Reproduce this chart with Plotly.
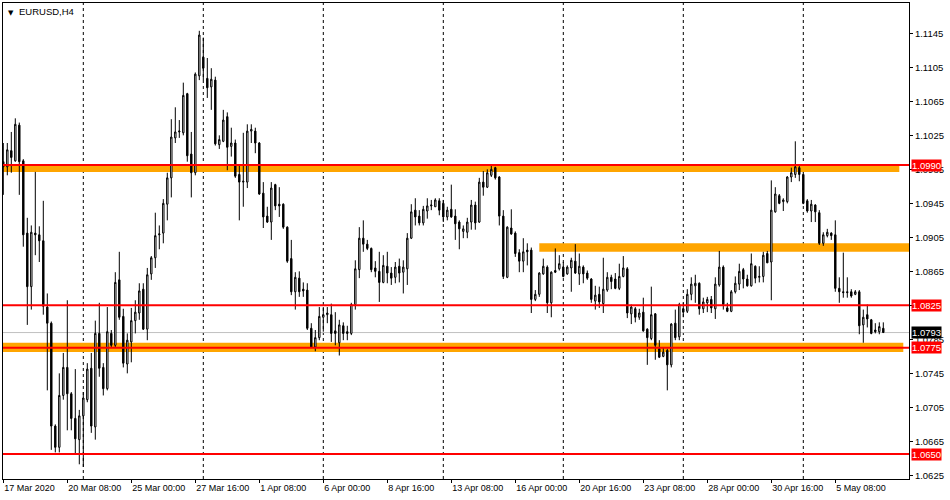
import plotly.graph_objects as go

# EURUSD H4 bars, 17 Mar 2020 16:00 .. 7 May 2020 08:00
bar_open = [
    1.0994, 1.0988, 1.1007, 1.0995, 1.1037, 1.0995, 1.0910, 1.0847, 1.0910, 1.0908,
    1.0901, 1.0823, 1.0804, 1.0683, 1.0658, 1.0719, 1.0752, 1.0721, 1.0692, 1.0667,
    1.0695, 1.0714, 1.0751, 1.0682, 1.0792, 1.0752, 1.0727, 1.0792, 1.0778, 1.0855,
    1.0812, 1.0756, 1.0782, 1.0807, 1.0816, 1.0844, 1.0797, 1.0862, 1.0881, 1.0908,
    1.0910, 1.0944, 1.0975, 1.1022, 1.1029, 1.1028, 1.1074, 1.1003, 1.0981, 1.1095,
    1.1117, 1.1092, 1.1082, 1.1090, 1.1014, 1.1018, 1.1047, 1.1012, 1.1016, 1.0979,
    1.0970, 1.0970, 1.1030, 1.1030, 1.1016, 1.0957, 1.0930, 1.0923, 1.0967, 1.0944,
    1.0944, 1.0917, 1.0880, 1.0841, 1.0857, 1.0844, 1.0843, 1.0798, 1.0776, 1.0787,
    1.0811, 1.0814, 1.0814, 1.0795, 1.0781, 1.0801, 1.0794, 1.0792, 1.0826, 1.0867,
    1.0904, 1.0897, 1.0892, 1.0869, 1.0865, 1.0852, 1.0871, 1.0863, 1.0858, 1.0871,
    1.0864, 1.0868, 1.0904, 1.0937, 1.0930, 1.0922, 1.0936, 1.0942, 1.0941, 1.0948,
    1.0945, 1.0929, 1.0938, 1.0930, 1.0923, 1.0912, 1.0911, 1.0923, 1.0943, 1.0923,
    1.0970, 1.0964, 1.0978, 1.0987, 1.0976, 1.0930, 1.0858, 1.0916, 1.0910, 1.0887,
    1.0877, 1.0890, 1.0890, 1.0832, 1.0838, 1.0862, 1.0870, 1.0828, 1.0866, 1.0868,
    1.0870, 1.0862, 1.0869, 1.0877, 1.0862, 1.0870, 1.0863, 1.0856, 1.0830, 1.0838,
    1.0827, 1.0843, 1.0858, 1.0856, 1.0845, 1.0859, 1.0868, 1.0815, 1.0821, 1.0811,
    1.0817, 1.0797, 1.0786, 1.0815, 1.0774, 1.0765, 1.0772, 1.0755, 1.0804, 1.0788,
    1.0821, 1.0818, 1.0838, 1.0848, 1.0851, 1.0821, 1.0828, 1.0832, 1.0821, 1.0849,
    1.0870, 1.0822, 1.0818, 1.0841, 1.0850, 1.0867, 1.0856, 1.0848, 1.0871, 1.0858,
    1.0859, 1.0886, 1.0876, 1.0935, 1.0954, 1.0947, 1.0947, 1.0976, 1.0979, 1.0987,
    1.0979, 1.0948, 1.0936, 1.0943, 1.0934, 1.0898, 1.0907, 1.0910, 1.0908, 1.0845,
    1.0841, 1.0841, 1.0841, 1.0838, 1.0841, 1.0802, 1.0814, 1.0808, 1.0796, 1.0794,
    1.0798,
]
bar_high = [
    1.1016, 1.1016, 1.1029, 1.1045, 1.1040, 1.0997, 1.0928, 1.0919, 1.0982, 1.0918,
    1.0948, 1.0839, 1.0806, 1.0685, 1.0745, 1.0769, 1.0831, 1.0723, 1.0750, 1.0702,
    1.0723, 1.0757, 1.0769, 1.0807, 1.0828, 1.0757, 1.0823, 1.0796, 1.0864, 1.0888,
    1.0821, 1.0792, 1.0822, 1.0831, 1.0851, 1.0851, 1.0869, 1.0883, 1.0934, 1.0919,
    1.0950, 1.0981, 1.1044, 1.1058, 1.1043, 1.1087, 1.1075, 1.1029, 1.1099, 1.1148,
    1.1140, 1.1116, 1.1104, 1.1094, 1.1025, 1.1055, 1.1052, 1.1034, 1.1020, 1.0990,
    1.1028, 1.1038, 1.1038, 1.1034, 1.1017, 1.0970, 1.0941, 1.0970, 1.0968, 1.0964,
    1.0945, 1.0918, 1.0902, 1.0864, 1.0865, 1.0852, 1.0851, 1.0804, 1.0796, 1.0823,
    1.0823, 1.0823, 1.0827, 1.0817, 1.0808, 1.0805, 1.0801, 1.0828, 1.0878, 1.0917,
    1.0925, 1.0902, 1.0893, 1.0877, 1.0888, 1.0884, 1.0888, 1.0870, 1.0876, 1.0880,
    1.0878, 1.0910, 1.0944, 1.0951, 1.0937, 1.0942, 1.0951, 1.0949, 1.0951, 1.0951,
    1.0949, 1.0941, 1.0967, 1.0938, 1.0925, 1.0919, 1.0928, 1.0949, 1.0947, 1.0975,
    1.0983, 1.0985, 1.0989, 1.0988, 1.0977, 1.0937, 1.0918, 1.0938, 1.0912, 1.0891,
    1.0904, 1.0898, 1.0893, 1.0843, 1.0864, 1.0880, 1.0872, 1.0865, 1.0892, 1.0884,
    1.0876, 1.0872, 1.0881, 1.0897, 1.0886, 1.0872, 1.0866, 1.0857, 1.0848, 1.0847,
    1.0881, 1.0864, 1.0861, 1.0863, 1.0874, 1.0883, 1.0870, 1.0826, 1.0823, 1.0821,
    1.0834, 1.0798, 1.0847, 1.0816, 1.0784, 1.0776, 1.0774, 1.0804, 1.0820, 1.0828,
    1.0828, 1.0844, 1.0858, 1.0861, 1.0852, 1.0834, 1.0835, 1.0836, 1.0858, 1.0889,
    1.0872, 1.0828, 1.0843, 1.0859, 1.0874, 1.0869, 1.0861, 1.0886, 1.0872, 1.0871,
    1.0888, 1.0889, 1.0972, 1.0964, 1.0956, 1.0951, 1.0977, 1.0987, 1.1018, 1.0989,
    1.0981, 1.0950, 1.0949, 1.0944, 1.0937, 1.0911, 1.0915, 1.0911, 1.0925, 1.0858,
    1.0887, 1.0858, 1.0844, 1.0843, 1.0843, 1.0820, 1.0826, 1.0809, 1.0804, 1.0805,
    1.0805,
]
bar_low = [
    1.0955, 1.0978, 1.0981, 1.0994, 1.0955, 1.0894, 1.0802, 1.0820, 1.0884, 1.0876,
    1.0814, 1.0725, 1.0655, 1.0652, 1.0652, 1.0714, 1.0678, 1.0678, 1.0651, 1.0638,
    1.0635, 1.0711, 1.0675, 1.0667, 1.0741, 1.0719, 1.0725, 1.0776, 1.0776, 1.0808,
    1.0752, 1.0745, 1.0758, 1.0792, 1.0808, 1.0796, 1.0784, 1.0855, 1.0869, 1.0891,
    1.0898, 1.0925, 1.0952, 1.1016, 1.1022, 1.1025, 1.0994, 1.0952, 1.0978, 1.1090,
    1.1090, 1.1069, 1.1055, 1.1013, 1.1009, 1.1017, 1.0984, 1.1000, 1.0975, 1.0925,
    1.0941, 1.0963, 1.1016, 1.1004, 1.0955, 1.0916, 1.0922, 1.0902, 1.0937, 1.0929,
    1.0915, 1.0875, 1.0837, 1.0820, 1.0835, 1.0835, 1.0796, 1.0775, 1.0771, 1.0784,
    1.0794, 1.0804, 1.0782, 1.0778, 1.0766, 1.0784, 1.0784, 1.0790, 1.0820, 1.0857,
    1.0888, 1.0890, 1.0864, 1.0858, 1.0829, 1.0851, 1.0851, 1.0849, 1.0851, 1.0852,
    1.0839, 1.0849, 1.0903, 1.0919, 1.0919, 1.0919, 1.0927, 1.0937, 1.0941, 1.0931,
    1.0923, 1.0925, 1.0928, 1.0902, 1.0891, 1.0904, 1.0904, 1.0914, 1.0914, 1.0922,
    1.0954, 1.0963, 1.0976, 1.0973, 1.0919, 1.0856, 1.0857, 1.0908, 1.0882, 1.0864,
    1.0864, 1.0872, 1.0816, 1.0830, 1.0835, 1.0861, 1.0816, 1.0811, 1.0863, 1.0866,
    1.0858, 1.0861, 1.0841, 1.0862, 1.0849, 1.0851, 1.0855, 1.0828, 1.0820, 1.0822,
    1.0816, 1.0841, 1.0844, 1.0844, 1.0843, 1.0858, 1.0810, 1.0803, 1.0805, 1.0808,
    1.0794, 1.0755, 1.0784, 1.0761, 1.0763, 1.0764, 1.0725, 1.0752, 1.0784, 1.0784,
    1.0811, 1.0816, 1.0831, 1.0828, 1.0814, 1.0816, 1.0817, 1.0816, 1.0809, 1.0847,
    1.0820, 1.0817, 1.0817, 1.0839, 1.0843, 1.0845, 1.0847, 1.0847, 1.0851, 1.0852,
    1.0852, 1.0875, 1.0831, 1.0934, 1.0944, 1.0936, 1.0945, 1.0970, 1.0975, 1.0971,
    1.0944, 1.0934, 1.0923, 1.0923, 1.0896, 1.0895, 1.0905, 1.0902, 1.0841, 1.0828,
    1.0834, 1.0834, 1.0834, 1.0837, 1.0791, 1.0781, 1.0799, 1.0791, 1.0792, 1.0791,
    1.0793,
]
bar_close = [
    1.0988, 1.1008, 1.0999, 1.1038, 1.0994, 1.0908, 1.0847, 1.0911, 1.0908, 1.0901,
    1.0824, 1.0804, 1.0683, 1.0658, 1.0719, 1.0752, 1.0721, 1.0692, 1.0668, 1.0695,
    1.0716, 1.0750, 1.0683, 1.0792, 1.0751, 1.0727, 1.0794, 1.0778, 1.0852, 1.0811,
    1.0757, 1.0784, 1.0807, 1.0817, 1.0842, 1.0797, 1.0861, 1.0881, 1.0907, 1.0909,
    1.0945, 1.0975, 1.1023, 1.1029, 1.1030, 1.1072, 1.1001, 1.0981, 1.1097, 1.1143,
    1.1104, 1.1081, 1.1091, 1.1015, 1.1020, 1.1043, 1.1011, 1.1016, 1.0977, 1.0970,
    1.0971, 1.1030, 1.1032, 1.1016, 1.0956, 1.0929, 1.0923, 1.0963, 1.0942, 1.0942,
    1.0917, 1.0877, 1.0841, 1.0858, 1.0841, 1.0842, 1.0798, 1.0776, 1.0787, 1.0812,
    1.0814, 1.0816, 1.0792, 1.0792, 1.0802, 1.0792, 1.0792, 1.0826, 1.0868, 1.0904,
    1.0897, 1.0892, 1.0867, 1.0865, 1.0852, 1.0872, 1.0863, 1.0857, 1.0870, 1.0863,
    1.0870, 1.0904, 1.0935, 1.0929, 1.0922, 1.0938, 1.0942, 1.0943, 1.0949, 1.0937,
    1.0929, 1.0937, 1.0929, 1.0921, 1.0915, 1.0915, 1.0923, 1.0943, 1.0922, 1.0970,
    1.0964, 1.0981, 1.0985, 1.0975, 1.0930, 1.0859, 1.0917, 1.0909, 1.0886, 1.0877,
    1.0888, 1.0888, 1.0832, 1.0838, 1.0863, 1.0871, 1.0828, 1.0864, 1.0864, 1.0874,
    1.0859, 1.0870, 1.0878, 1.0863, 1.0871, 1.0862, 1.0857, 1.0832, 1.0837, 1.0829,
    1.0844, 1.0858, 1.0853, 1.0845, 1.0859, 1.0869, 1.0816, 1.0823, 1.0811, 1.0816,
    1.0795, 1.0787, 1.0814, 1.0778, 1.0764, 1.0770, 1.0755, 1.0803, 1.0787, 1.0826,
    1.0817, 1.0838, 1.0850, 1.0851, 1.0821, 1.0829, 1.0832, 1.0822, 1.0850, 1.0870,
    1.0826, 1.0818, 1.0841, 1.0851, 1.0865, 1.0856, 1.0848, 1.0874, 1.0857, 1.0859,
    1.0884, 1.0875, 1.0937, 1.0956, 1.0945, 1.0949, 1.0976, 1.0981, 1.0988, 1.0979,
    1.0945, 1.0936, 1.0944, 1.0935, 1.0898, 1.0908, 1.0911, 1.0907, 1.0845, 1.0841,
    1.0840, 1.0840, 1.0836, 1.0841, 1.0801, 1.0811, 1.0809, 1.0792, 1.0794, 1.0800,
    1.0793,
]

# time axis labels (bar index -> label) and week separators
tick_bars = [0, 16, 32, 48, 64, 80, 96, 112, 128, 144, 160, 176, 192, 208]
tick_text = ['17 Mar 2020', '20 Mar 08:00', '25 Mar 00:00', '27 Mar 16:00',
             '1 Apr 08:00', '6 Apr 00:00', '8 Apr 16:00', '13 Apr 08:00',
             '16 Apr 00:00', '20 Apr 16:00', '23 Apr 08:00', '28 Apr 00:00',
             '30 Apr 16:00', '5 May 08:00']
week_bars = [20, 50, 80, 110, 140, 170, 200]

# price scale ticks
price_ticks = [1.0625, 1.0665, 1.0705, 1.0745, 1.0785, 1.0825, 1.0865,
               1.0905, 1.0945, 1.0985, 1.1025, 1.1065, 1.1105, 1.1145]

# horizontal levels and zones
levels = [1.0990, 1.0825, 1.0775, 1.0650]
zone_start = [-5, 134, -5]
zone_end = [224, 230, 225]
zone_top = [1.0990, 1.0898, 1.0781]
zone_bottom = [1.0982, 1.0888, 1.0770]
bid = 1.0793

FONT = 'Liberation Sans'
n = len(bar_close)
bars = list(range(n))

fig = go.Figure(go.Candlestick(
    x=bars, open=bar_open, high=bar_high, low=bar_low, close=bar_close,
    increasing=dict(line=dict(color='black', width=1), fillcolor='white'),
    decreasing=dict(line=dict(color='black', width=1), fillcolor='black'),
    whiskerwidth=0, hoverinfo='skip', showlegend=False,
))

shapes = []
for x0, x1, y0, y1 in zip(zone_start, zone_end, zone_bottom, zone_top):
    shapes.append(dict(type='rect', xref='x', yref='y', x0=x0, x1=x1, y0=y0, y1=y1,
                       fillcolor='#FFA500', line=dict(width=0), layer='below'))
for wb in week_bars:
    shapes.append(dict(type='line', xref='x', yref='paper', x0=wb, x1=wb, y0=0, y1=1,
                       line=dict(color='black', width=1, dash='3px,3px'), layer='below'))
shapes.append(dict(type='line', xref='paper', yref='y', x0=0, x1=1, y0=bid, y1=bid,
                   line=dict(color='#C0C0C0', width=1), layer='below'))
for lv in levels:
    shapes.append(dict(type='line', xref='paper', yref='y', x0=0, x1=1, y0=lv, y1=lv,
                       line=dict(color='#FF0000', width=2), layer='above'))

annotations = [
    dict(x=0, y=1, xref='paper', yref='paper', xanchor='left', yanchor='top',
         xshift=3, yshift=-4, text='▼', showarrow=False,
         font=dict(family='DejaVu Sans', size=7, color='black')),
    dict(x=0, y=1, xref='paper', yref='paper', xanchor='left', yanchor='top',
         xshift=14, yshift=-1, text='EURUSD,H4', showarrow=False,
         font=dict(family=FONT, size=9.5, color='black')),
]
for lv in levels:
    annotations.append(dict(x=1, y=lv, xref='paper', yref='y', xanchor='left',
                            xshift=2, text=f'{lv:.4f}', showarrow=False,
                            bgcolor='#FF0000', borderpad=0,
                            font=dict(family=FONT, size=9.5, color='white')))
annotations.append(dict(x=1, y=bid, xref='paper', yref='y', xanchor='left',
                        xshift=2, text=f'{bid:.4f}', showarrow=False,
                        bgcolor='black', borderpad=0,
                        font=dict(family=FONT, size=9.5, color='white')))

# a tick label that sits exactly under a level tag is left blank (hidden in the reference)
price_text = ['' if any(abs(p - lv) < 1e-9 for lv in levels) else f'{p:.4f}'
              for p in price_ticks]

fig.update_layout(
    width=950, height=500,
    margin=dict(l=3, r=41, t=3, b=21, autoexpand=False),
    paper_bgcolor='white', plot_bgcolor='white',
    font=dict(family=FONT, size=9, color='black'),
    boxgap=0.5,
    shapes=shapes, annotations=annotations,
    xaxis=dict(range=[-0.075, 226.425], tickvals=tick_bars, ticktext=tick_text,
               tickangle=0, tickfont=dict(size=9),
               ticks='outside', ticklen=3, tickcolor='black',
               ticklabelposition='outside right',
               showline=True, linecolor='black', linewidth=1, mirror=True,
               showgrid=False, zeroline=False, rangeslider=dict(visible=False),
               fixedrange=True),
    yaxis=dict(side='right', range=[1.06207, 1.11807],
               tickvals=price_ticks, ticktext=price_text, tickfont=dict(size=9.5),
               ticks='outside', ticklen=3, tickcolor='black',
               showline=True, linecolor='black', linewidth=1, mirror=True,
               showgrid=False, zeroline=False, fixedrange=True),
)

# the page body has a default 8px margin; drop it so the chart sits at 0,0
fig.write_html('out.html', config={'displayModeBar': False},
               post_script="document.body.style.margin='0';")
